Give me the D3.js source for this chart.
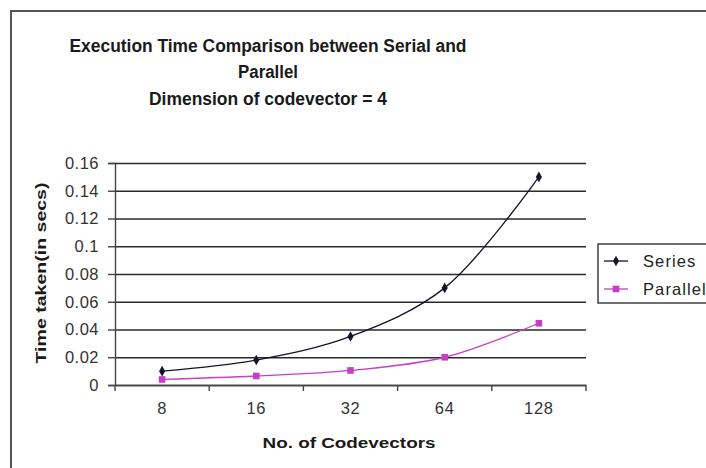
<!DOCTYPE html>
<html>
<head>
<meta charset="utf-8">
<script src="https://cdn.jsdelivr.net/npm/d3@7"></script>
<style>
  body { margin: 0; background: #fff; }
  svg { display: block; font-family: "Liberation Sans", Arial, sans-serif; }
</style>
</head>
<body>
<svg id="chart" width="706" height="468"></svg>
<script>
// chart data
const categories = ["8", "16", "32", "64", "128"];
const seriesValues = [0.01, 0.018, 0.035, 0.07, 0.15];
const parallelValues = [0.004, 0.0065, 0.0105, 0.02, 0.0445];
const yTicks = [0, 0.02, 0.04, 0.06, 0.08, 0.1, 0.12, 0.14, 0.16];
const titleLines = ["Execution Time Comparison between Serial and", "Parallel", "Dimension of codevector = 4"];

const svg = d3.select("#chart");

// outer chart border (runs off the right/bottom of the picture)
svg.append("rect")
    .attr("x", 11).attr("y", 11)
    .attr("width", 720).attr("height", 480)
    .attr("fill", "#fff")
    .attr("stroke", "#555")
    .attr("stroke-width", 2);

const plot = { left: 115, right: 586, top: 163, bottom: 385 };

const x = d3.scaleBand()
    .domain(categories)
    .range([plot.left, plot.right]);

const y = d3.scaleLinear()
    .domain([0, 0.16])
    .range([plot.bottom, plot.top]);

// title
const titleWidths = [397, 60, 238];
svg.append("g")
    .selectAll("text")
    .data(titleLines)
    .join("text")
    .attr("x", 268)
    .attr("y", (d, i) => 51.5 + i * 26.5)
    .attr("text-anchor", "middle")
    .attr("font-weight", "bold")
    .attr("font-size", 18)
    .attr("textLength", (d, i) => titleWidths[i])
    .attr("lengthAdjust", "spacingAndGlyphs")
    .attr("fill", "#1a1a1a")
    .text(d => d);

// horizontal gridlines
svg.append("g")
    .attr("transform", `translate(${plot.left},0)`)
    .call(d3.axisLeft(y).tickValues(yTicks).tickSize(-(plot.right - plot.left)).tickFormat(""))
    .call(g => g.select(".domain").remove())
    .call(g => g.selectAll("line").attr("stroke", "#2a2a2a").attr("stroke-width", 1.4));

// y axis
svg.append("g")
    .attr("transform", `translate(${plot.left},0)`)
    .call(d3.axisLeft(y).tickValues(yTicks).tickSize(7).tickPadding(9)
        .tickFormat(d => String(+d.toFixed(2))))
    .call(g => g.select(".domain").attr("stroke", "#444").attr("stroke-width", 1.4))
    .call(g => g.selectAll("line").attr("stroke", "#444").attr("stroke-width", 1.4))
    .call(g => g.selectAll("text")
        .attr("font-family", "Liberation Sans, Arial, sans-serif")
        .attr("font-size", 16.5)
        .attr("letter-spacing", 0.5)
        .attr("fill", "#333"));

// x axis: labels centred on categories
svg.append("g")
    .attr("transform", `translate(0,${plot.bottom})`)
    .call(d3.axisBottom(x).tickSize(0).tickPadding(17))
    .call(g => g.select(".domain").attr("stroke", "#444").attr("stroke-width", 1.4))
    .call(g => g.selectAll("text")
        .attr("font-family", "Liberation Sans, Arial, sans-serif")
        .attr("font-size", 16.5)
        .attr("letter-spacing", 0.7)
        .attr("fill", "#333"));

// x tick marks sit between the categories
const boundaries = categories.map(c => x(c)).concat([x.range()[1]]);
svg.append("g")
    .selectAll("line")
    .data(boundaries)
    .join("line")
    .attr("x1", d => d).attr("x2", d => d)
    .attr("y1", plot.bottom).attr("y2", plot.bottom + 6)
    .attr("stroke", "#444")
    .attr("stroke-width", 1.4);

// axis titles
svg.append("text")
    .attr("transform", `translate(46,273) rotate(-90)`)
    .attr("text-anchor", "middle")
    .attr("font-weight", "bold")
    .attr("font-size", 14.5)
    .attr("textLength", 181)
    .attr("lengthAdjust", "spacingAndGlyphs")
    .attr("fill", "#1a1a1a")
    .text("Time taken(in secs)");

svg.append("text")
    .attr("x", 349).attr("y", 448)
    .attr("text-anchor", "middle")
    .attr("font-weight", "bold")
    .attr("font-size", 14.5)
    .attr("textLength", 173)
    .attr("lengthAdjust", "spacingAndGlyphs")
    .attr("fill", "#1a1a1a")
    .text("No. of Codevectors");

// lines
const cx = d => x(d) + x.bandwidth() / 2;
const line = d3.line()
    .x((d, i) => cx(categories[i]))
    .y(d => y(d))
    .curve(d3.curveCatmullRom.alpha(0.5));

const series = [
    { name: "Series", values: seriesValues, color: "#141428", marker: "diamond" },
    { name: "Parallel", values: parallelValues, color: "#c63ec6", marker: "square" }
];

const symbolFor = m => d3.symbol().type(m === "diamond" ? d3.symbolDiamond : d3.symbolSquare)
    .size(m === "diamond" ? 32 : 44);

series.forEach(s => {
    svg.append("path")
        .datum(s.values)
        .attr("fill", "none")
        .attr("stroke", s.color)
        .attr("stroke-width", 1.3)
        .attr("d", line);

    svg.append("g")
        .selectAll("path")
        .data(s.values)
        .join("path")
        .attr("transform", (d, i) => `translate(${cx(categories[i])},${y(d)})`)
        .attr("d", symbolFor(s.marker)())
        .attr("fill", s.color);
});

// legend
const legend = svg.append("g").attr("transform", "translate(598,244)");
legend.append("rect")
    .attr("width", 120).attr("height", 59)
    .attr("fill", "#fff")
    .attr("stroke", "#333")
    .attr("stroke-width", 1.4);

const item = legend.selectAll("g.item")
    .data(series)
    .join("g")
    .attr("class", "item")
    .attr("transform", (d, i) => `translate(0,${17 + i * 28})`);

item.append("line")
    .attr("x1", 6).attr("x2", 30)
    .attr("stroke", d => d.color)
    .attr("stroke-width", 1.3);

item.append("path")
    .attr("transform", "translate(18,0)")
    .attr("d", d => symbolFor(d.marker)())
    .attr("fill", d => d.color);

item.append("text")
    .attr("x", 45)
    .attr("dy", "0.36em")
    .attr("font-size", 16.5)
    .attr("letter-spacing", 1.1)
    .attr("fill", "#222")
    .text(d => d.name);
</script>
</body>
</html>
